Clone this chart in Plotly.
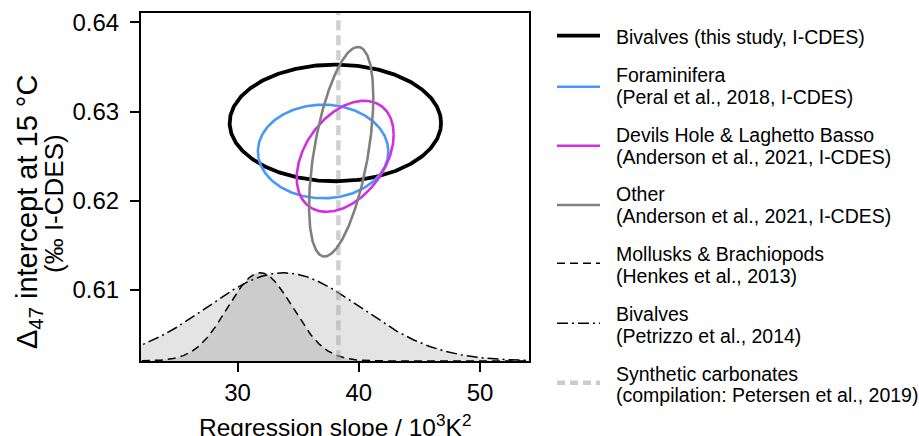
import numpy as np
import plotly.graph_objects as go

# ---------------- data ----------------
# confidence ellipses: centre (slope, intercept), half-ranges, correlation
ell_names = ["Bivalves (this study, I-CDES)",
             "Foraminifera (Peral et al., 2018, I-CDES)",
             "Devils Hole & Laghetto Basso (Anderson et al., 2021, I-CDES)",
             "Other (Anderson et al., 2021, I-CDES)"]
ell_cx = [38.07, 37.06, 38.88, 38.55]
ell_cy = [0.62873, 0.62553, 0.62499, 0.62550]
ell_sx = [8.72, 5.38, 4.00, 2.65]
ell_sy = [0.00654, 0.00525, 0.00623, 0.01175]
ell_rho = [0.0, 0.0, 0.39, 0.52]
ell_colors = ["#000000", "#4b97f7", "#d22fe0", "#808080"]
ell_widths = [3.8, 2.6, 2.6, 2.6]

# slope distributions of earlier compilations (mean, sd)
dist_names = ["Mollusks & Brachiopods (Henkes et al., 2013)",
              "Bivalves (Petrizzo et al., 2014)"]
dist_mean = [31.87, 33.79]
dist_sd = [2.68, 6.35]
dist_base = 0.60203
dist_height = 0.00989

synthetic_slope = 38.32

x_ticks = [30, 40, 50]
y_ticks = [0.61, 0.62, 0.63, 0.64]
y_ticklabels = ["0.61", "0.62", "0.63", "0.64"]

legend_lines = [
    ["Bivalves (this study, I-CDES)"],
    ["Foraminifera", "(Peral et al., 2018, I-CDES)"],
    ["Devils Hole & Laghetto Basso", "(Anderson et al., 2021, I-CDES)"],
    ["Other", "(Anderson et al., 2021, I-CDES)"],
    ["Mollusks & Brachiopods", "(Henkes et al., 2013)"],
    ["Bivalves", "(Petrizzo et al., 2014)"],
    ["Synthetic carbonates", "(compilation: Petersen et al., 2019)"],
]

# ---------------- figure ----------------
FONT = "Liberation Sans, Arial, sans-serif"
W, H = 919, 436
ML, MR, MT, MB = 141, 390, 13, 75
PW, PH = W - ML - MR, H - MT - MB
XR = [22.04, 54.04]
YR = [0.60203, 0.64106]


def px2paper_x(px):
    return (px - ML) / PW


def px2paper_y(py):
    return (H - MB - py) / PH


fig = go.Figure()

xs = np.linspace(XR[0] - 1, XR[1] + 1, 600)
c_pet = dist_base + dist_height * np.exp(-(xs - dist_mean[1]) ** 2 / (2 * dist_sd[1] ** 2))
c_hen = dist_base + dist_height * np.exp(-(xs - dist_mean[0]) ** 2 / (2 * dist_sd[0] ** 2))
fig.add_trace(go.Scatter(x=xs, y=c_pet, mode="lines", line=dict(width=0),
                         fill="tozeroy", fillcolor="#e3e4e3", hoverinfo="skip", showlegend=False))
fig.add_trace(go.Scatter(x=xs, y=c_hen, mode="lines", line=dict(width=0),
                         fill="tozeroy", fillcolor="#cccccc", hoverinfo="skip", showlegend=False))
fig.add_trace(go.Scatter(x=xs, y=c_hen, mode="lines",
                         line=dict(color="black", width=1.5, dash="8px,5px"),
                         name=dist_names[0], showlegend=False))
fig.add_trace(go.Scatter(x=xs, y=c_pet, mode="lines",
                         line=dict(color="black", width=1.5, dash="11px,4px,2px,4px"),
                         name=dist_names[1], showlegend=False))

# synthetic carbonates vertical line
fig.add_trace(go.Scatter(x=[synthetic_slope, synthetic_slope], y=[YR[0] - 0.01, YR[1] + 0.01],
                         mode="lines", line=dict(color="rgba(165,165,165,0.52)", width=4.5, dash="10px,5px"),
                         showlegend=False, hoverinfo="skip"))

t = np.linspace(0, 2 * np.pi, 361)
for i in range(len(ell_names)):
    r = ell_rho[i]
    ex = ell_cx[i] + ell_sx[i] * np.cos(t)
    ey = ell_cy[i] + ell_sy[i] * (r * np.cos(t) + np.sqrt(1 - r * r) * np.sin(t))
    fig.add_trace(go.Scatter(x=ex, y=ey, mode="lines",
                             line=dict(color=ell_colors[i], width=ell_widths[i]),
                             name=ell_names[i], showlegend=False))

axis_common = dict(showline=True, linecolor="black", linewidth=2, mirror=True,
                   ticks="outside", ticklen=9, tickwidth=2, tickcolor="black",
                   showgrid=False, zeroline=False,
                   tickfont=dict(family=FONT, size=24, color="black"))
fig.update_xaxes(range=XR, tickvals=x_ticks, ticktext=[str(v) for v in x_ticks],
                 ticklabelstandoff=0, **axis_common)
fig.update_yaxes(range=YR, tickvals=y_ticks, ticktext=y_ticklabels,
                 ticklabelstandoff=6, **axis_common)

ann = []
# axis titles
ann.append(dict(text="Regression slope / 10<sup>3</sup>K<sup>2</sup>", x=px2paper_x(335), y=px2paper_y(426),
                xref="paper", yref="paper", xanchor="center", yanchor="middle", showarrow=False,
                font=dict(family=FONT, size=24.5, color="black")))
ann.append(dict(text="Δ<sub>47</sub> intercept at 15 °C", x=px2paper_x(29), y=px2paper_y(212),
                xref="paper", yref="paper", xanchor="center", yanchor="middle", showarrow=False,
                textangle=-90, font=dict(family=FONT, size=29, color="black")))
ann.append(dict(text="(‰ I-CDES)", x=px2paper_x(54), y=px2paper_y(204),
                xref="paper", yref="paper", xanchor="center", yanchor="middle", showarrow=False,
                textangle=-90, font=dict(family=FONT, size=26, color="black")))

# manual legend
legend_styles = [
    dict(color="#000000", width=3.8, dash="solid"),
    dict(color="#4b97f7", width=2.6, dash="solid"),
    dict(color="#d22fe0", width=2.6, dash="solid"),
    dict(color="#808080", width=2.6, dash="solid"),
    dict(color="#000000", width=1.5, dash="8px,5px"),
    dict(color="#000000", width=1.5, dash="11px,4px,2px,4px"),
    dict(color="#cccccc", width=4.5, dash="8px,5px"),
]
line1_y = [36.3, 74, 133.8, 193, 253, 312.7, 372.5]
sample_y = [35.7, 86.7, 145.7, 205, 263.3, 323.3, 382.7]
shapes = []
for i, lines in enumerate(legend_lines):
    shapes.append(dict(type="line", xref="paper", yref="paper",
                       x0=px2paper_x(557), x1=px2paper_x(600),
                       y0=px2paper_y(sample_y[i]), y1=px2paper_y(sample_y[i]),
                       line=legend_styles[i]))
    for j, txt in enumerate(lines):
        ann.append(dict(text=txt, x=px2paper_x(614), y=px2paper_y(line1_y[i] + 22 * j + 1),
                        xref="paper", yref="paper", xanchor="left", yanchor="middle",
                        showarrow=False, font=dict(family=FONT, size=19.5, color="black")))

fig.update_layout(width=W, height=H, margin=dict(l=ML, r=MR, t=MT, b=MB, autoexpand=False),
                  paper_bgcolor="white", plot_bgcolor="white", showlegend=False,
                  annotations=ann, shapes=shapes,
                  font=dict(family=FONT, size=22, color="black"))

fig.write_html("out.html", config={"displayModeBar": False},
               post_script="document.body.style.margin='0';document.body.style.overflow='hidden';")
